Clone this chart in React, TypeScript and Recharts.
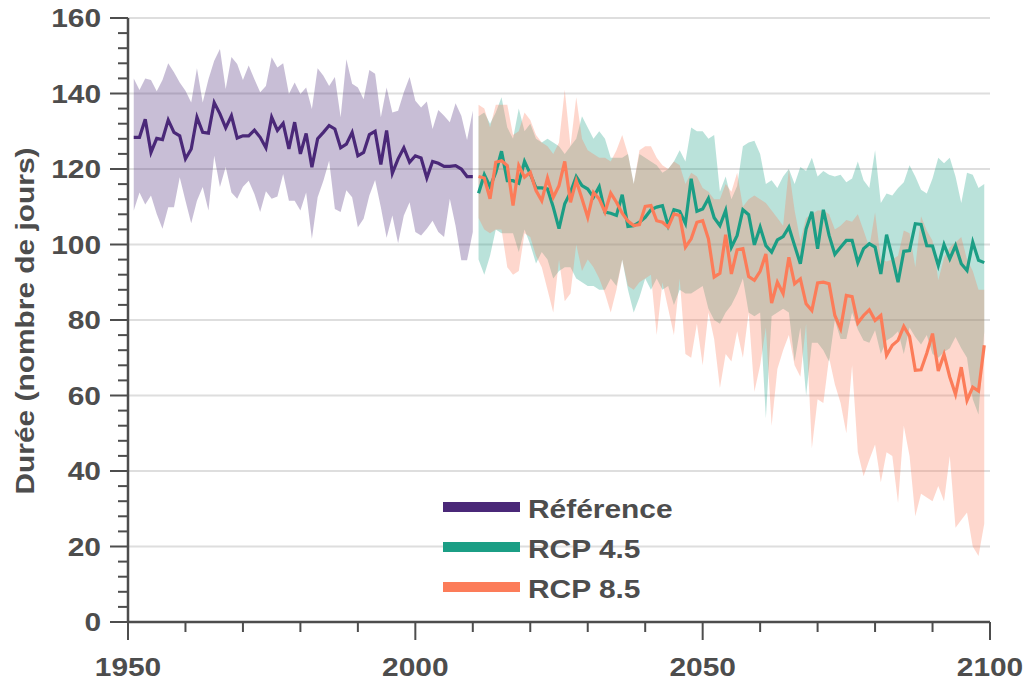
import { ComposedChart, Area, Line, XAxis, YAxis, CartesianGrid } from 'recharts';

// Durée annuelle (jours) – période de référence 1951-2010
const refMean = [
  128.4, 128.4, 133.2, 124.4, 128.1, 127.8, 133.0, 129.7, 128.8, 122.7,
  125.3, 133.7, 129.7, 129.5, 137.6, 134.6, 130.9, 134.1, 128.2, 128.8,
  128.8, 130.3, 128.4, 125.6, 133.7, 130.2, 132.1, 125.3, 132.4, 124.0,
  129.4, 120.5, 128.0, 129.7, 131.5, 130.6, 125.6, 126.6, 129.7, 123.5,
  124.4, 129.1, 130.0, 121.2, 130.2, 118.9, 122.7, 125.6, 121.8, 123.5,
  122.9, 117.6, 122.0, 121.5, 120.7, 120.7, 120.9, 120.0, 118.0, 118.0,
];
const refHigh = [
  144, 140.9, 144, 143.6, 140.6, 143.6, 148, 145.6, 142.9, 140.7,
  137.6, 146.7, 137.6, 143.8, 148.7, 151.8, 141.2, 149.7, 147.8, 143.6,
  147.4, 143.8, 140.3, 142, 149.6, 146.9, 148, 139.9, 142.9, 139.9,
  141.6, 135.9, 146.7, 144.7, 142, 144.4, 133.7, 149.1, 142.6, 141.6,
  138.5, 146.2, 145.2, 133.7, 141.6, 135, 135.4, 140.3, 144.4, 138.1,
  136.3, 137.9, 130.6, 135.6, 134.1, 132.4, 137.4, 134.1, 127.7, 135.4,
];
const refLow = [
  109, 113.8, 110.6, 113, 108.1, 104.2, 109.9, 109.9, 117.8, 111.6,
  105.6, 111.6, 115.2, 109, 123.5, 115.2, 120.5, 113.8, 112.1, 115.3,
  116.9, 113.4, 108.6, 114.1, 112.1, 112.7, 118.7, 111.6, 111.6, 109,
  113.8, 101.5, 112.5, 116.9, 122.2, 109.4, 108.6, 114.4, 112.5, 104.6,
  106.8, 113, 117.1, 109.9, 101.8, 107.7, 100.3, 107.7, 111.2, 103.3,
  102.4, 104.2, 106.3, 103.3, 102, 112.1, 105, 95.8, 95.8, 103.3,
];

// Scénarios 2011-2099
const rcp45Mean = [
  113.6, 118.5, 115.3, 119.1, 124.7, 116.9, 116.9, 116.2, 122.0, 118.7,
  115.0, 115.0, 114.7, 109.9, 104.2, 110.8, 113.8, 118.0, 115.6, 114.7,
  112.5, 115.3, 108.6, 108.3, 107.7, 113.2, 104.8, 105.0, 105.9, 107.2,
  109.2, 109.9, 110.3, 105.0, 109.2, 108.8, 105.6, 117.4, 108.8, 109.4,
  112.2, 107.1, 105.0, 109.0, 99.3, 102.4, 109.2, 107.9, 99.9, 104.6,
  99.7, 98.0, 101.2, 102.1, 104.6, 99.7, 94.9, 104.1, 108.7, 98.9,
  109.2, 102.4, 97.4, 99.3, 101.1, 101.1, 95.2, 98.9, 100.2, 99.3,
  92.2, 102.6, 96.6, 90.0, 98.2, 98.4, 105.5, 105.3, 99.7, 99.6,
  94.4, 100.0, 96.2, 99.7, 94.9, 93.1, 100.6, 95.8, 95.2,
];
const rcp45High = [
  134, 135, 132, 135, 139, 131, 128, 136, 130, 132,
  128, 127, 128, 127, 126, 124, 126, 128, 134, 131,
  128, 130, 128, 123, 123, 123, 124, 116, 124, 123,
  122, 121, 119, 120, 122, 125, 122, 131, 130, 130,
  128, 129, 114, 118, 112, 115.5, 126, 127, 127.5, 124,
  116, 117, 115, 118, 120, 116, 120.5, 119.5, 123, 118,
  119.5, 118.5, 118, 118.5, 116.5, 117.5, 122, 117, 115, 125,
  111, 113.5, 113, 115, 116.5, 121, 118, 114.5, 113.5, 117.5,
  123, 121.5, 123, 118, 111, 119, 118.5, 115, 116,
];
const rcp45Low = [
  96, 92, 97, 104, 103, 103, 103, 98, 104, 100,
  95, 98, 96, 91, 93, 94, 94, 91, 90, 89,
  89, 88, 88, 91, 89, 96, 88, 82, 86, 91,
  88, 91, 88, 89, 84, 88, 87, 87, 88, 89,
  83, 80, 79, 82, 84, 87, 91, 82, 81, 82,
  54, 81, 82, 83, 82, 69, 78, 60, 74, 74,
  72, 69, 80, 75, 75, 82, 77.5, 74.6, 74, 77.3,
  71, 74.6, 75.5, 77, 71, 78, 75.5, 73.5, 76, 71,
  70, 71.5, 72.5, 75.5, 72.5, 70, 59, 55, 77,
];
const rcp85Mean = [
  118.0, 117.6, 112.1, 121.8, 122.2, 120.9, 110.3, 120.9, 117.8, 119.1,
  114.3, 111.6, 117.6, 112.5, 115.6, 122.0, 111.2, 116.9, 112.1, 107.2,
  113.8, 112.1, 108.6, 113.6, 111.2, 108.3, 106.2, 105.0, 105.3, 110.1,
  110.3, 106.3, 105.9, 104.6, 108.1, 107.7, 99.3, 101.5, 105.9, 106.3,
  101.5, 91.4, 92.4, 102.6, 92.2, 98.6, 98.9, 91.5, 90.5, 92.9,
  97.5, 84.5, 90.0, 87.0, 96.6, 89.6, 90.9, 84.3, 82.5, 89.8,
  90.0, 89.6, 81.2, 77.7, 86.5, 86.2, 79.2, 81.2, 82.7, 79.9,
  81.2, 70.6, 73.3, 74.6, 78.3, 75.7, 66.7, 66.8, 71.2, 76.4,
  66.5, 70.9, 64.9, 60.3, 67.5, 58.7, 62.2, 61.2, 73.3,
];
const rcp85High = [
  137, 136, 131, 137, 137, 137, 129, 130, 135, 133,
  129, 127, 126, 124, 127, 141, 126, 139, 128, 125,
  124, 123, 123, 122, 125, 129, 124, 116, 125, 126,
  126, 123, 121, 120, 122, 121, 116, 119, 118, 115,
  114, 112, 112, 116, 114, 119, 110, 112, 113, 112,
  111, 109, 107, 105, 120, 109, 101, 107, 108, 109,
  109, 108, 104, 105, 106.5, 106, 108, 103.7, 99.3, 108.5,
  96, 95.5, 96, 97, 103.7, 103, 94, 107.5, 103.7, 101,
  90.5, 96.5, 99.3, 100.5, 102, 96, 93, 88, 88,
];
const rcp85Low = [
  107, 104, 103, 104, 104, 94, 92, 93, 103, 102,
  97, 94, 88, 82, 96, 85, 87, 100, 93, 96,
  94, 91, 87, 82, 88, 96, 89, 88, 90, 91,
  92, 76, 90, 83, 76, 91, 71, 70, 79, 68,
  82, 75, 62, 71, 69, 77, 70, 82, 61, 68,
  78, 52, 67, 72, 76, 68, 65, 79, 46, 59,
  58, 70, 63, 58, 50, 68, 45, 38.6, 43, 47,
  37, 45, 44, 31.5, 52, 44, 28, 34, 33, 32,
  36, 32, 44, 25, 27, 29, 20, 17.5, 26,
];

const REF_START = 1951;
const RCP_START = 2011;
const xTicks = [1950, 1960, 1970, 1980, 1990, 2000, 2010, 2020, 2030, 2040, 2050, 2060, 2070, 2080, 2090, 2100];
const xLabels = [1950, 2000, 2050, 2100];
const yTicks = Array.from({ length: 41 }, (_, i) => i * 4);
const yGrid = [20, 40, 60, 80, 100, 120, 140, 160];

const PURPLE = '#4a2878';
const GREEN = '#1b9e85';
const ORANGE = '#fc7c59';
const AXIS = '#4d4d4d';
const FONT = '"Liberation Sans", Arial, sans-serif';
const FS = 26;
const STRETCH = 1.15; // le texte d'origine est plus large qu'Arial

const legendItems = [
  { label: 'Référence', color: PURPLE },
  { label: 'RCP 4.5', color: GREEN },
  { label: 'RCP 8.5', color: ORANGE },
];

const build = (start: number, mean: number[], low: number[], high: number[]) =>
  mean.map((m, i) => ({ year: start + i, mean: m, band: [low[i], high[i]] }));

const refData = build(REF_START, refMean, refLow, refHigh);
const rcp45Data = build(RCP_START, rcp45Mean, rcp45Low, rcp45High);
const rcp85Data = build(RCP_START, rcp85Mean, rcp85Low, rcp85High);

function WideText({ x, y, anchor, rotate, children }: any) {
  const t = `translate(${x} ${y})${rotate ? ` rotate(${rotate})` : ''} scale(${STRETCH} 1)`;
  return (
    <text transform={t} textAnchor={anchor} fontFamily={FONT} fontWeight="bold" fontSize={FS} fill={AXIS}>
      {children}
    </text>
  );
}

function YTick(props: any) {
  const { x, y, payload } = props;
  const major = payload.value % 20 === 0;
  return (
    <g>
      <line x1={x} x2={x - (major ? 18 : 10)} y1={y} y2={y} stroke={AXIS} strokeWidth={2} />
      {major && (
        <WideText x={x - 27} y={y + 9} anchor="end">
          {payload.value}
        </WideText>
      )}
    </g>
  );
}

function XTick(props: any) {
  const { x, y, payload } = props;
  const major = xLabels.includes(payload.value);
  return (
    <g>
      <line x1={x} x2={x} y1={y} y2={y + (major ? 18 : 10)} stroke={AXIS} strokeWidth={2} />
      {major && (
        <WideText x={x} y={y + 54} anchor="middle">
          {payload.value}
        </WideText>
      )}
    </g>
  );
}

const yTitle = () => (
  <WideText x={34} y={321} anchor="middle" rotate={-90}>
    Durée (nombre de jours)
  </WideText>
);

export default function App() {
  return (
    <div style={{ position: 'absolute', left: 0, top: 0, width: 1029, height: 692, background: '#fff' }}>
      <ComposedChart width={1029} height={692} margin={{ top: 18, right: 39, left: 0, bottom: 0 }}>
        <CartesianGrid vertical={false} horizontalValues={yGrid} stroke="#dedede" strokeWidth={2} />
        <XAxis
          dataKey="year"
          type="number"
          domain={[1950, 2100]}
          ticks={xTicks}
          interval={0}
          height={70}
          tickSize={0}
          tickMargin={0}
          tickLine={false}
          tick={<XTick />}
          axisLine={{ stroke: AXIS, strokeWidth: 2.5 }}
        />
        <YAxis
          type="number"
          domain={[0, 160]}
          ticks={yTicks}
          interval={0}
          width={128}
          tickSize={0}
          tickMargin={0}
          tickLine={false}
          tick={<YTick />}
          axisLine={{ stroke: AXIS, strokeWidth: 2.5 }}
          label={yTitle}
        />
        <Area data={refData} dataKey="band" type="linear" stroke="none" fill={PURPLE} fillOpacity={0.3} isAnimationActive={false} activeDot={false} />
        <Area data={rcp45Data} dataKey="band" type="linear" stroke="none" fill={GREEN} fillOpacity={0.3} isAnimationActive={false} activeDot={false} />
        <Area data={rcp85Data} dataKey="band" type="linear" stroke="none" fill={ORANGE} fillOpacity={0.3} isAnimationActive={false} activeDot={false} />
        <Line data={refData} dataKey="mean" type="linear" stroke={PURPLE} strokeWidth={3.2} dot={false} isAnimationActive={false} activeDot={false} />
        <Line data={rcp45Data} dataKey="mean" type="linear" stroke={GREEN} strokeWidth={3.2} dot={false} isAnimationActive={false} activeDot={false} />
        <Line data={rcp85Data} dataKey="mean" type="linear" stroke={ORANGE} strokeWidth={3.2} dot={false} isAnimationActive={false} activeDot={false} />
      </ComposedChart>
      <div style={{ position: 'absolute', left: 443, top: 487, fontFamily: FONT, fontWeight: 'bold', fontSize: FS, color: AXIS }}>
        {legendItems.map((item) => (
          <div key={item.label} style={{ display: 'flex', alignItems: 'center', height: 40 }}>
            <div style={{ width: 77, height: 10, background: item.color, marginRight: 8 }} />
            <span
              style={{
                display: 'inline-block',
                paddingTop: 3,
                lineHeight: '40px',
                transform: `scaleX(${STRETCH})`,
                transformOrigin: 'left center',
                whiteSpace: 'nowrap',
              }}
            >
              {item.label}
            </span>
          </div>
        ))}
      </div>
    </div>
  );
}
